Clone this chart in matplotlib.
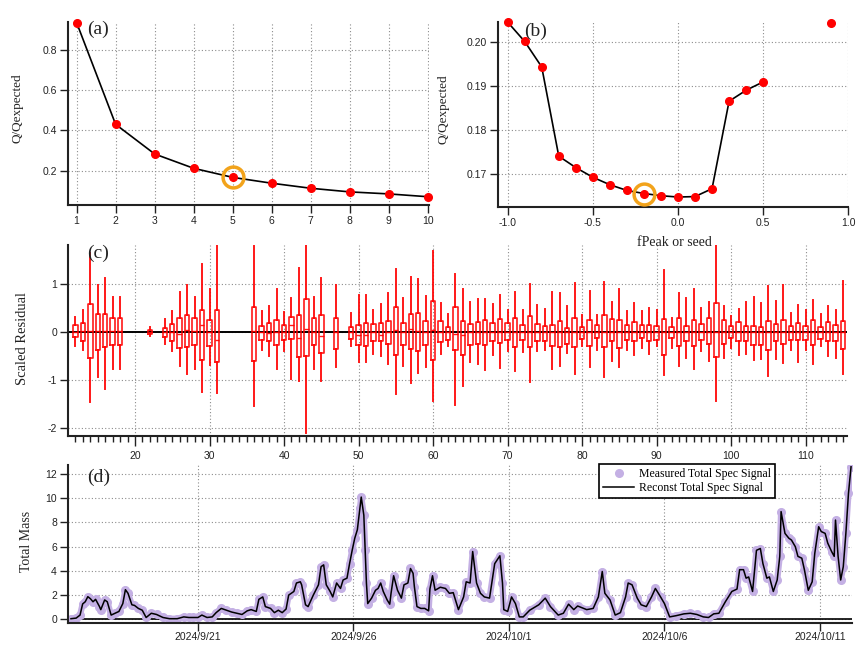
import matplotlib
matplotlib.use('Agg')
import matplotlib.pyplot as plt
import matplotlib.ticker as mticker
import matplotlib.dates as mdates
import numpy as np

# ---------------- data ----------------
# (a) Q/Qexp vs number of factors
nfactors = [1, 2, 3, 4, 5, 6, 7, 8, 9, 10]
q_nfac = [0.935, 0.430, 0.283, 0.212, 0.167, 0.138, 0.113, 0.095, 0.085, 0.071]
selected_nfac = 5

# (b) Q/Qexp vs fPeak
fpeak = [-1.0, -0.9, -0.8, -0.7, -0.6, -0.5, -0.4, -0.3, -0.2, -0.1, 0.0, 0.1, 0.2, 0.3, 0.4, 0.5]
q_fpeak = [0.2046, 0.2002, 0.1944, 0.1741, 0.1715, 0.1693, 0.1676, 0.1663, 0.1656, 0.1651,
           0.1648, 0.1649, 0.1667, 0.1866, 0.1891, 0.1910]
seed_x = [0.9]
seed_q = [0.2043]
selected_fpeak = -0.2

# (c) scaled residual box statistics per m/z
mz = [12, 13, 14, 15, 16, 17, 18, 22, 24, 25, 26, 27, 28, 29, 30, 31, 36, 37, 38, 39, 40, 41, 42, 43,
      44, 45, 47, 49, 50, 51, 52, 53, 54, 55, 56, 57, 58, 59, 60, 61, 62, 63, 64, 65, 66, 67, 68, 69,
      70, 71, 72, 73, 74, 75, 76, 77, 78, 79, 80, 81, 82, 83, 84, 85, 86, 87, 88, 89, 90, 91, 92, 93,
      94, 95, 96, 97, 98, 99, 100, 101, 102, 103, 104, 105, 106, 107, 108, 109, 110, 111, 112, 113,
      114, 115]
res_hi = [0.31, 0.47, 1.65, 0.98, 1.13, 0.73, 0.73, 0.11, 0.28, 0.45, 0.85, 0.99, 0.73, 1.43, 0.90, 1.84,
          1.80, 0.44, 0.55, 0.90, 0.42, 0.71, 1.34, 1.83, 0.73, 1.13, 0.99, 0.40, 0.78, 0.78, 0.46, 0.59,
          0.83, 1.32, 0.71, 1.16, 1.11, 0.75, 1.70, 0.61, 0.39, 1.22, 0.90, 0.64, 0.69, 0.69, 0.60, 0.78,
          0.47, 0.85, 0.46, 1.00, 0.57, 0.48, 0.85, 0.83, 0.54, 1.02, 0.37, 0.87, 0.37, 1.04, 0.63, 0.91,
          0.44, 0.61, 0.44, 0.51, 0.47, 1.30, 0.30, 0.83, 0.71, 0.90, 0.51, 0.64, 1.84, 0.54, 0.35, 0.48,
          0.64, 0.73, 0.61, 0.97, 0.66, 0.98, 0.40, 0.57, 0.47, 0.68, 0.39, 0.55, 0.46, 1.06]
res_q3 = [0.15, 0.19, 0.59, 0.39, 0.39, 0.30, 0.30, 0.05, 0.10, 0.17, 0.29, 0.37, 0.30, 0.46, 0.26, 0.46,
          0.53, 0.14, 0.19, 0.26, 0.15, 0.32, 0.37, 0.69, 0.30, 0.37, 0.29, 0.11, 0.15, 0.19, 0.17, 0.19,
          0.24, 0.52, 0.19, 0.38, 0.40, 0.24, 0.66, 0.23, 0.12, 0.52, 0.24, 0.17, 0.21, 0.26, 0.19, 0.28,
          0.19, 0.30, 0.15, 0.34, 0.18, 0.14, 0.15, 0.24, 0.10, 0.29, 0.11, 0.26, 0.15, 0.37, 0.28, 0.26,
          0.15, 0.21, 0.15, 0.16, 0.14, 0.28, 0.11, 0.29, 0.14, 0.26, 0.17, 0.29, 0.62, 0.26, 0.14, 0.21,
          0.14, 0.14, 0.12, 0.24, 0.18, 0.26, 0.14, 0.19, 0.14, 0.26, 0.12, 0.21, 0.16, 0.24]
res_med = [0.00, 0.02, 0.02, 0.02, 0.03, 0.02, 0.02, 0.01, 0.00, 0.00, -0.03, 0.04, 0.02, 0.16, 0.00, -0.15,
           0.02, 0.00, -0.01, 0.00, 0.00, 0.16, -0.12, 0.07, 0.00, -0.08, 0.00, 0.00, -0.06, -0.06, 0.00, -0.05,
           0.00, 0.04, 0.00, 0.07, 0.02, 0.00, 0.05, 0.00, 0.00, -0.04, -0.05, 0.00, 0.00, 0.00, 0.00, 0.00,
           0.00, 0.00, 0.00, 0.00, 0.00, 0.00, 0.00, 0.00, 0.00, 0.00, 0.00, 0.00, 0.00, 0.00, 0.00, 0.00,
           0.00, 0.00, 0.00, 0.00, 0.00, 0.00, 0.00, 0.00, 0.00, 0.00, 0.00, 0.00, 0.00, 0.00, 0.00, 0.00,
           0.00, 0.00, 0.00, 0.00, 0.00, 0.00, 0.00, 0.00, 0.00, 0.00, 0.00, 0.00, 0.00, 0.00]
res_q1 = [-0.10, -0.17, -0.53, -0.36, -0.30, -0.26, -0.26, -0.03, -0.10, -0.17, -0.33, -0.31, -0.26, -0.57,
          -0.28, -0.62, -0.60, -0.15, -0.19, -0.26, -0.15, -0.14, -0.51, -0.50, -0.26, -0.43, -0.34, -0.13,
          -0.26, -0.28, -0.17, -0.19, -0.24, -0.47, -0.26, -0.34, -0.38, -0.26, -0.58, -0.21, -0.15, -0.36,
          -0.47, -0.26, -0.24, -0.26, -0.19, -0.22, -0.15, -0.30, -0.15, -0.30, -0.17, -0.17, -0.28, -0.30,
          -0.24, -0.31, -0.14, -0.28, -0.12, -0.30, -0.17, -0.33, -0.15, -0.19, -0.12, -0.19, -0.15, -0.48,
          -0.12, -0.28, -0.19, -0.28, -0.15, -0.24, -0.51, -0.24, -0.12, -0.19, -0.19, -0.26, -0.26, -0.37,
          -0.19, -0.25, -0.15, -0.15, -0.15, -0.26, -0.14, -0.17, -0.17, -0.35]
res_lo = [-0.29, -0.37, -1.45, -0.93, -1.19, -0.76, -0.76, -0.07, -0.24, -0.39, -0.71, -0.87, -0.76, -1.25,
          -0.69, -1.26, -1.54, -0.36, -0.50, -0.76, -0.39, -0.97, -1.02, -2.09, -0.76, -1.02, -0.73, -0.28,
          -0.62, -0.62, -0.46, -0.50, -0.67, -1.29, -0.71, -1.05, -0.84, -0.73, -1.43, -0.46, -0.29, -1.52,
          -1.11, -0.62, -0.67, -0.78, -0.48, -0.74, -0.39, -0.81, -0.40, -1.04, -0.39, -0.36, -0.76, -0.71,
          -0.44, -0.87, -0.29, -0.72, -0.36, -0.93, -0.60, -0.72, -0.36, -0.48, -0.33, -0.46, -0.29, -0.89,
          -0.33, -0.71, -0.53, -0.76, -0.39, -0.60, -1.43, -0.53, -0.33, -0.48, -0.46, -0.57, -0.55, -0.90,
          -0.55, -0.64, -0.36, -0.61, -0.36, -0.65, -0.29, -0.50, -0.53, -0.87]

# (d) total mass time series (hours since 2024-09-16 00:00)
hours = [22, 26, 29, 31, 33, 35, 37, 39, 41, 44, 45, 48, 50, 53, 56, 59, 62, 64, 66, 69, 71, 74, 77, 80,
         84, 88, 93, 98, 104, 109, 113, 116, 120, 123, 127, 131, 134, 138, 142, 146, 150, 154, 158, 161,
         165, 167, 170, 172, 176, 179, 182, 185, 188, 190, 194, 196, 199, 200, 203, 205, 209, 213, 215,
         217, 219, 222, 224, 227, 230, 232, 235, 237, 239, 241, 243, 245, 246, 248, 249, 250, 251, 254,
         257, 259, 261, 263, 266, 268, 269, 271, 274, 277, 279, 282, 284, 286, 287, 289, 292, 295, 298,
         299, 301, 303, 307, 311, 314, 317, 321, 325, 327, 330, 332, 335, 338, 341, 345, 349, 353, 355,
         356, 359, 362, 365, 368, 371, 376, 383, 388, 392, 398, 402, 406, 410, 413, 420, 425, 429, 432,
         434, 438, 442, 446, 450, 452, 455, 459, 462, 466, 470, 473, 477, 480, 484, 489, 495, 500, 505,
         510, 514, 518, 522, 527, 532, 536, 538, 541, 543, 545, 548, 551, 554, 556, 559, 561, 564, 567,
         569, 570, 573, 576, 578, 581, 583, 586, 588, 591, 594, 596, 599, 601, 604, 606, 609, 611, 612,
         614, 616, 618, 620, 622, 624]
measured = [0.05, 0.1, 0.35, 1.27, 1.45, 1.87, 1.7, 1.45, 1.65, 1.05, 0.8, 1.6, 1.45, 0.35, 0.5, 0.65, 1.3,
            2.45, 2.15, 1.2, 1.15, 0.9, 0.75, 0.15, 0.5, 0.4, 0.15, 0.05, 0.05, 0.2, 0.15, 0.15, 0.15, 0.35,
            0.15, 0.2, 0.55, 0.9, 0.75, 0.6, 0.5, 0.4, 0.7, 0.8, 0.65, 1.65, 1.85, 1.05, 0.9, 0.55, 0.75, 0.55,
            0.85, 2.0, 2.3, 3.0, 3.1, 2.85, 1.2, 1.05, 2.0, 2.85, 4.35, 4.5, 2.85, 2.3, 1.85, 3.0, 2.55, 3.25,
            3.4, 4.6, 5.7, 6.7, 7.4, 9.2, 10.1, 8.6, 5.7, 3.0, 1.3, 1.75, 2.4, 2.55, 3.0, 2.3, 1.6, 1.25, 2.15,
            3.6, 2.4, 1.75, 2.85, 3.0, 4.2, 3.8, 2.7, 1.05, 0.9, 0.9, 0.7, 2.5, 3.6, 2.4, 2.65, 2.55, 2.15, 2.2,
            0.8, 1.85, 3.1, 3.0, 5.6, 3.0, 2.15, 1.85, 1.75, 4.6, 5.25, 3.0, 0.8, 0.65, 1.85, 1.3, 0.2, 0.2,
            0.75, 1.2, 1.75, 1.05, 0.35, 0.5, 1.25, 0.8, 1.1, 0.8, 0.9, 1.85, 3.95, 2.15, 1.6, 0.35, 0.55, 1.85,
            3.0, 2.85, 1.75, 1.2, 1.05, 1.85, 2.55, 1.85, 1.3, 0.2, 0.3, 0.45, 0.5, 0.4, 0.2, 0.15, 0.45, 0.5,
            1.45, 2.3, 2.5, 4.1, 4.1, 3.4, 3.5, 2.3, 5.7, 5.85, 4.6, 3.4, 3.5, 2.3, 3.25, 5.2, 8.9, 7.1, 6.7,
            6.55, 6.0, 5.2, 5.05, 4.1, 2.4, 3.1, 5.45, 7.65, 7.25, 7.1, 6.3, 5.6, 5.2, 8.2, 5.2, 3.25, 4.35,
            7.1, 10.4, 12.6]
reconst = list(measured)
date_ticks = ['2024-09-21', '2024-09-26', '2024-10-01', '2024-10-06', '2024-10-11']

# ---------------- styling ----------------
SERIF = ['Liberation Serif', 'DejaVu Serif']
SANS = ['Liberation Sans', 'DejaVu Sans']
plt.rcParams['font.family'] = SANS
plt.rcParams['axes.unicode_minus'] = False
RED = '#ff0000'
ORANGE = '#f2a31b'
LAV = '#c4b0e4'
GRIDKW = dict(color='#8c8c8c', linestyle=(0, (1, 2)), linewidth=0.8)

W, H = 856, 646
fig = plt.figure(figsize=(W / 100, H / 100), dpi=100)


def add_ax(l, t, r, b):
    return fig.add_axes([l / W, 1 - b / H, (r - l) / W, (b - t) / H])


def style(ax):
    for s in ['top', 'right']:
        ax.spines[s].set_visible(False)
    for s in ['left', 'bottom']:
        ax.spines[s].set_linewidth(1.5)
        ax.spines[s].set_color('#222222')
    ax.tick_params(direction='out', length=6, width=1, colors='#222222',
                   labelsize=7.5, pad=2)
    ax.set_axisbelow(True)
    ax.set_facecolor('none')


def ftext(x, y, s, **kw):
    fig.text(x / W, 1 - y / H, s, **kw)


# (a)
ax_a = add_ax(68, 21.5, 429, 205)
style(ax_a)
ax_a.plot(nfactors, q_nfac, color='black', lw=1.2, zorder=2)
ax_a.plot(nfactors, q_nfac, 'o', color=RED, ms=5.5, zorder=3, clip_on=False)
ia = nfactors.index(selected_nfac)
ax_a.plot([selected_nfac], [q_nfac[ia]], 'o', ms=15, mfc='none', mec=ORANGE, mew=2.5, zorder=4)
ax_a.set_xlim(0.78, 10.03)
ax_a.set_ylim(0.03, 0.94)
ax_a.set_xticks(nfactors)
ax_a.set_yticks([0.2, 0.4, 0.6, 0.8])
ax_a.yaxis.set_major_formatter(mticker.FormatStrFormatter('%.1f'))
ax_a.grid(True, **GRIDKW)

# (b)
ax_b = add_ax(498.3, 21.7, 848.3, 206.7)
style(ax_b)
ax_b.plot(fpeak, q_fpeak, color='black', lw=1.2, zorder=2)
ax_b.plot(fpeak, q_fpeak, 'o', color=RED, ms=5.5, zorder=3, clip_on=False)
ax_b.plot(seed_x, seed_q, 'o', color=RED, ms=5.5, zorder=3, clip_on=False)
ib = int(np.argmin(np.abs(np.array(fpeak) - selected_fpeak)))
ax_b.plot([fpeak[ib]], [q_fpeak[ib]], 'o', ms=15, mfc='none', mec=ORANGE, mew=2.5, zorder=4)
ax_b.set_xlim(-1.055, 1.0)
ax_b.set_ylim(0.1626, 0.2047)
ax_b.set_xticks([-1.0, -0.5, 0.0, 0.5, 1.0])
ax_b.set_yticks([0.17, 0.18, 0.19, 0.20])
ax_b.xaxis.set_major_formatter(mticker.FormatStrFormatter('%.1f'))
ax_b.yaxis.set_major_formatter(mticker.FormatStrFormatter('%.2f'))
ax_b.grid(True, **GRIDKW)

# (c)
ax_c = add_ax(68.3, 245, 846.7, 436)
style(ax_c)
stats = [dict(med=m, q1=a, q3=b, whislo=lo, whishi=hi, fliers=[])
         for m, a, b, lo, hi in zip(res_med, res_q1, res_q3, res_lo, res_hi)]
ax_c.axhline(0, color='black', lw=1.4, zorder=1.5)
ax_c.bxp(stats, positions=mz, widths=0.6, showcaps=False, showfliers=False,
         manage_ticks=False,
         boxprops=dict(color=RED, lw=1.2, alpha=0.9),
         whiskerprops=dict(color=RED, lw=1.4, alpha=0.9),
         medianprops=dict(color=RED, lw=1.0, alpha=0.9))
ax_c.set_xlim(11.05, 115.5)
ax_c.set_ylim(-2.16, 1.82)
ax_c.xaxis.set_major_locator(mticker.MultipleLocator(10))
ax_c.xaxis.set_minor_locator(mticker.MultipleLocator(1))
ax_c.set_yticks([-2, -1, 0, 1])
ax_c.tick_params(axis='x', which='major', length=7, pad=4)
ax_c.tick_params(axis='x', which='minor', length=4, width=1, color='#222222')
ax_c.grid(True, which='major', **GRIDKW)

# (d)
ax_d = add_ax(68, 465, 851.7, 622.7)
style(ax_d)
base = np.datetime64('2024-09-16T00:00')
times = base + np.array(hours).astype('timedelta64[h]')
ax_d.axhline(0, color='black', lw=1.2, zorder=1.5)
ax_d.plot(times, measured, color=LAV, lw=4.5, solid_capstyle='round', solid_joinstyle='round', zorder=2)
ax_d.plot(times, measured, 'o', color=LAV, ms=5.5, zorder=2.5, label='Measured Total Spec Signal')
ax_d.plot(times, reconst, color='black', lw=1.1, zorder=3, label='Reconst Total Spec Signal')
ax_d.set_xlim(base + np.timedelta64(1182, 'm'), base + np.timedelta64(37470, 'm'))
ax_d.set_ylim(-0.28, 12.75)
ax_d.set_xticks([np.datetime64(d + 'T00:00') for d in date_ticks])
ax_d.xaxis.set_major_formatter(mticker.FuncFormatter(
    lambda v, p: (lambda d: f"{d.year}/{d.month}/{d.day}")(mdates.num2date(v))))
ax_d.set_yticks([0, 2, 4, 6, 8, 10, 12])
ax_d.tick_params(axis='x', length=6, pad=1)
ax_d.grid(True, **GRIDKW)
leg = ax_d.legend(loc='upper left', bbox_to_anchor=(0.678, 1.005), frameon=True, fancybox=False,
                  prop=dict(family=SERIF, size=8.5), borderpad=0.35, handlelength=2.6,
                  handletextpad=0.4, labelspacing=0.15, borderaxespad=0)
leg.get_frame().set_edgecolor('black')
leg.get_frame().set_linewidth(1.2)
leg.get_frame().set_alpha(1)

# labels
lab = dict(family=SERIF, color='#222222')
ftext(17, 108, 'Q/Qexpected', rotation=90, ha='center', va='center', fontsize=9.5, **lab)
ftext(443, 109, 'Q/Qexpected', rotation=90, ha='center', va='center', fontsize=9.5, **lab)
ftext(23, 338, 'Scaled Residual', rotation=90, ha='center', va='center', fontsize=10.5, **lab)
ftext(27, 541, 'Total Mass', rotation=90, ha='center', va='center', fontsize=10, **lab)
ftext(674, 243, 'fPeak or seed', ha='center', va='center', fontsize=10, **lab)
ftext(87, 29, '(a)', ha='left', va='center', fontsize=14, **lab)
ftext(524, 31, '(b)', ha='left', va='center', fontsize=14, **lab)
ftext(87, 253, '(c)', ha='left', va='center', fontsize=14, **lab)
ftext(87, 477, '(d)', ha='left', va='center', fontsize=14, **lab)

fig.savefig('out.png', dpi=100)
